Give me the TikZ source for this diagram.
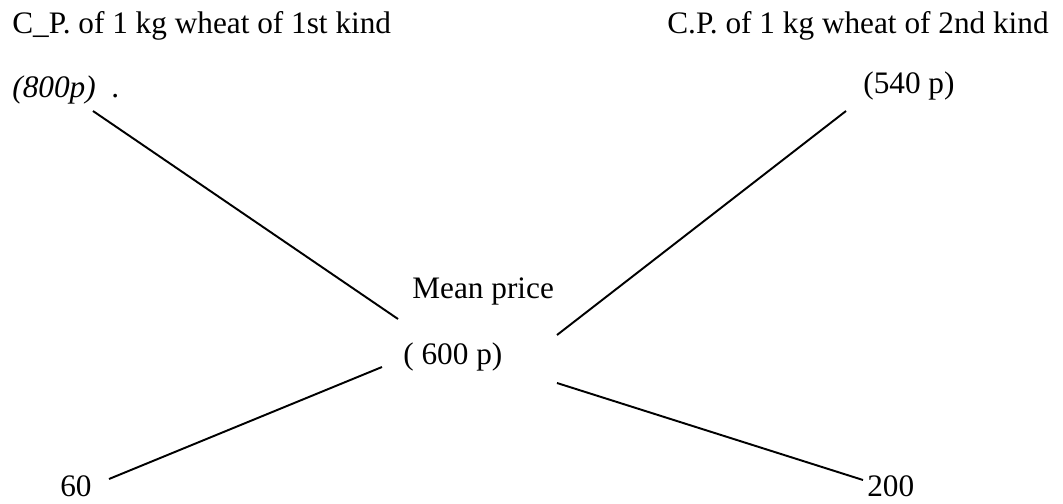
\documentclass[tikz,border=0pt]{standalone}
\usepackage{fontspec}
\setmainfont{Liberation Serif}
\usepackage{tikz}
\usetikzlibrary{positioning}
\tikzstyle{price}=[anchor=base west, inner sep=0pt, font=\fontsize{17.8}{20}\selectfont]
\tikzstyle{line}=[-, line width=1.1pt]

\begin{document}
\begin{tikzpicture}[x=0.02cm, y=-0.02cm]
    \useasboundingbox (0,0) rectangle (1063,504);
    \node (First) [price] at (12,33) {C\_P. of 1 kg wheat of 1st kind};
    \node (Second) [price] at (667,33) {C.P. of 1 kg wheat of 2nd kind};
    \node (Cost1) [price] at (12,97) {\textit{(800p)}\ \ .};
    \node (Cost2) [price] at (863,93) {(540 p)};
    \node (Mean) [price] at (412,298) {Mean price};
    \node (Meanval) [price] at (403,364) {( 600 p)};
    \node (Diff1) [price] at (60,496) {60};
    \node (Diff2) [price] at (867,496) {200};
    % line ends
    \coordinate (c1) at (93,111);
    \coordinate (c2) at (846,111);
    \coordinate (m1) at (398,319);
    \coordinate (m2) at (557,335);
    \coordinate (m3) at (382,367);
    \coordinate (m4) at (557,383);
    \coordinate (d1) at (109,479);
    \coordinate (d2) at (863,480);
    \draw[line] (c1) -- (m1);
    \draw[line] (c2) -- (m2);
    \draw[line] (m3) -- (d1);
    \draw[line] (m4) -- (d2);
\end{tikzpicture}
\end{document}
